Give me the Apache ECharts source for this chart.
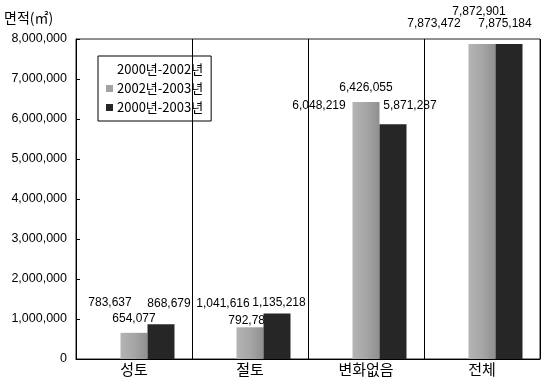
<!DOCTYPE html>
<html>
<head>
<meta charset="utf-8">
<script src="https://cdn.jsdelivr.net/npm/echarts@6/dist/echarts.min.js"></script>
<style>
  html, body { margin: 0; padding: 0; background: #fff; }
  #chart { width: 542px; height: 380px; }
</style>
</head>
<body>
<div id="chart"></div>
<script>
// Land-area change by type (㎡)
const categories = ['성토', '절토', '변화없음', '전체'];
const seriesNames = ['2000년-2002년', '2002년-2003년', '2000년-2003년'];
const values2000to2002 = [783637, 1041616, 6048219, 7873472];
const values2002to2003 = [654077, 792783, 6426055, 7872901];
const values2000to2003 = [868679, 1135218, 5871287, 7875184];
const yTicks = [0, 1000000, 2000000, 3000000, 4000000, 5000000, 6000000, 7000000, 8000000];

// per-label nudges [dx, dy] so overlapping value labels stay readable
const labelShift = [
  [[3, -19], [0, -8], [-20, -5], [-21, -14]],
  [[0, -8], [0, -1], [0, -8], [-3, -26]],
  [[8, -15], [2, -5], [17, -12], [-4, -14]]
];

const seriesValues = [values2000to2002, values2002to2003, values2000to2003];
// first series is white on the white plot background
const barColors = ['rgba(255,255,255,0)', '#a3a3a3', '#262626'];
const legendColors = ['#ffffff', '#a3a3a3', '#262626'];
const numFont = 'Liberation Sans';

const fmt = v => v.toLocaleString('en-US');

const chart = echarts.init(document.getElementById('chart'), null, { renderer: 'canvas' });

const series = seriesValues.map((vals, s) => ({
  name: seriesNames[s],
  type: 'bar',
  barWidth: 27,
  barGap: '0%',
  itemStyle: s === 1 ? {
    color: new echarts.graphic.LinearGradient(0, 0, 1, 0, [
      { offset: 0, color: '#b4b4b4' },
      { offset: 0.5, color: '#a6a6a6' },
      { offset: 1, color: '#8f8f8f' }
    ])
  } : { color: barColors[s] },
  data: vals.map((v, i) => ({
    value: v,
    label: { offset: labelShift[s][i] }
  })),
  label: {
    show: true,
    position: 'top',
    distance: 0,
    color: '#000',
    fontFamily: numFont,
    fontSize: 12,
    lineHeight: 12,
    formatter: p => fmt(p.value)
  },
  z: 2 + s
}));

chart.setOption({
  backgroundColor: '#fff',
  animation: false,
  grid: {
    left: 76, right: 2, top: 39, bottom: 21,
    show: true, borderColor: '#222', borderWidth: 1, backgroundColor: 'transparent'
  },
  legend: {
    orient: 'vertical',
    left: 98, top: 56,
    padding: [7, 8, 7, 8],
    itemGap: 6,
    itemWidth: 7, itemHeight: 7,
    backgroundColor: '#fff',
    borderColor: '#000', borderWidth: 1,
    icon: 'rect',
    data: seriesNames.map((n, s) => ({ name: n, itemStyle: { color: legendColors[s] } })),
    textStyle: { fontFamily: 'Noto Sans CJK KR', fontSize: 13, color: '#000', padding: [0, 0, 0, -1] }
  },
  xAxis: {
    type: 'category',
    data: categories,
    z: 10,
    axisLine: { show: true, lineStyle: { color: '#000', width: 1 } },
    axisTick: { show: false },
    splitLine: { show: true, lineStyle: { color: '#000', width: 1 } },
    axisLabel: {
      color: '#000', fontFamily: 'Noto Sans CJK KR', fontSize: 15, margin: 3
    }
  },
  yAxis: {
    type: 'value',
    name: '면적(㎡)',
    nameLocation: 'end',
    nameGap: 0,
    nameTextStyle: {
      fontFamily: 'Noto Sans CJK KR', fontSize: 14, color: '#000',
      align: 'left', verticalAlign: 'bottom', padding: [0, 0, 14, -72]
    },
    min: 0, max: 8000000, interval: 1000000,
    z: 10,
    axisLine: { show: true, lineStyle: { color: '#000', width: 1 } },
    axisTick: { show: true, inside: true, length: 4, lineStyle: { color: '#000' } },
    splitLine: { show: false },
    axisLabel: {
      color: '#000', fontFamily: numFont, fontSize: 12.5, margin: 9,
      formatter: v => (yTicks.indexOf(v) >= 0 ? fmt(v) : '')
    }
  },
  series: series
});
</script>
</body>
</html>
